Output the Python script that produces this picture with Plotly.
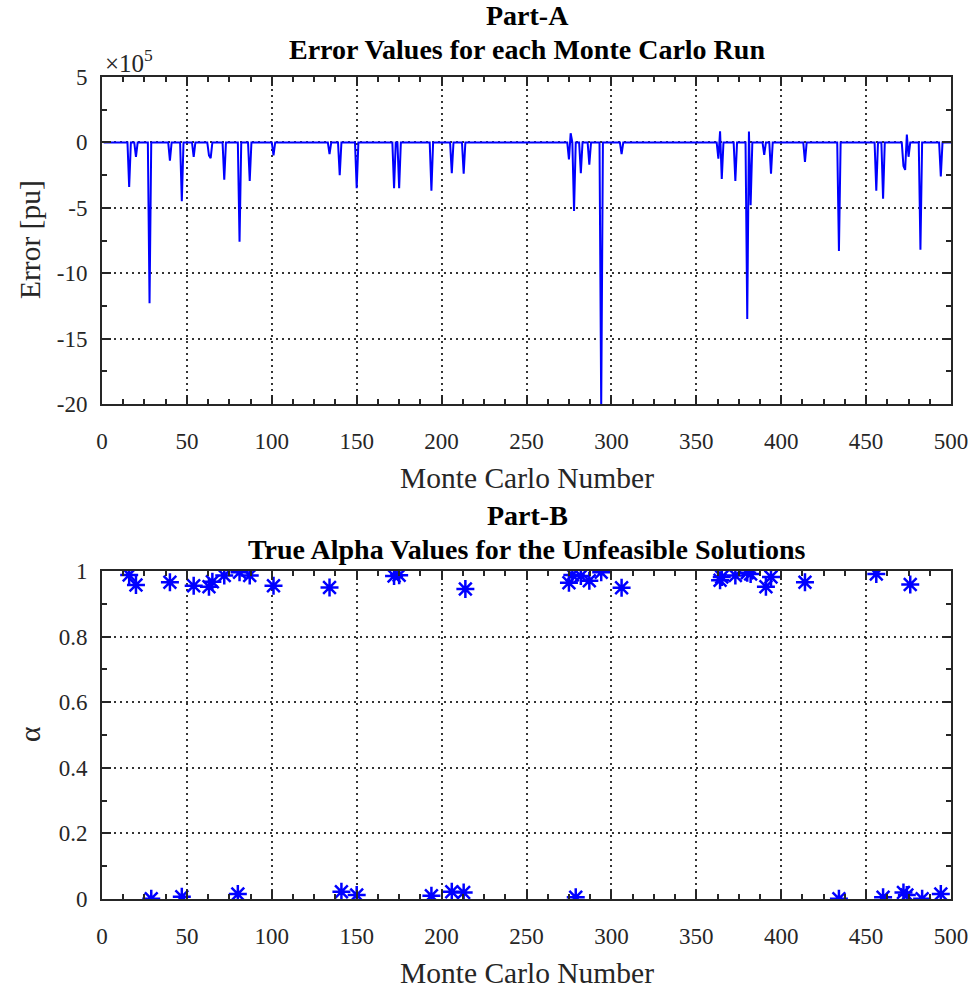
import numpy as np
import plotly.graph_objects as go

# ---- Part-A: runs with a non-zero error (error in units of 1e5 pu) ----
err_runs = [16, 20, 28, 40, 47, 54, 63, 64, 72, 81, 87, 101, 134, 140, 150,
            172, 175, 194, 206, 213, 275, 276, 278, 282, 287, 294, 306, 363,
            364, 365, 373, 380, 381, 382, 390, 394, 414, 434, 456, 460, 472,
            473, 474, 475, 482, 494]
err_vals = [-3.4, -1.1, -12.3, -1.4, -4.5, -1.1, -1.0, -1.2, -2.85, -7.6, -2.95,
            -1.0, -0.9, -2.5, -3.5, -3.5, -3.5, -3.7, -2.35, -2.4, -1.3, 0.7,
            -5.25, -2.35, -1.7, -20.3, -0.9, -1.25, 0.84, -2.8, -2.95, -13.5,
            0.84, -4.8, -0.95, -2.4, -1.5, -8.3, -3.7, -4.3, -1.8, -2.1, 0.6,
            -1.1, -8.2, -2.6]
n_runs = 500

# ---- Part-B: true alpha of the unfeasible solutions ----
alpha_runs = [16, 20, 29, 40, 47, 54, 63, 65, 72, 80, 81, 87, 101, 134, 141,
              150, 172, 175, 194, 206, 213, 214, 275, 277, 279, 282, 287, 294,
              306, 364, 365, 373, 380, 382, 391, 394, 414, 434, 456, 460, 472,
              474, 476, 483, 494]
alpha_vals = [0.988, 0.957, 0.001, 0.966, 0.007, 0.955, 0.952, 0.967, 0.986,
              0.015, 0.996, 0.986, 0.955, 0.950, 0.022, 0.012, 0.985, 0.987,
              0.010, 0.022, 0.020, 0.945, 0.964, 0.988, 0.005, 0.985, 0.970,
              0.996, 0.949, 0.972, 0.982, 0.986, 0.995, 0.991, 0.952, 0.982,
              0.966, 0.001, 0.991, 0.005, 0.020, 0.012, 0.959, 0.001, 0.015]

# tick labels
x_ticks = list(range(0, 501, 50))
err_ticks = [5, 0, -5, -10, -15, -20]
alpha_ticks = [0, 0.2, 0.4, 0.6, 0.8, 1]
alpha_tick_text = ["0", "0.2", "0.4", "0.6", "0.8", "1"]

runs = np.arange(1, n_runs + 1)
error = np.zeros(n_runs)
error[np.array(err_runs) - 1] = err_vals

W, H = 974, 992
FONT = "Liberation Serif"
INK = "#262626"
BLUE = "#0000FF"


def px_x(p):
    return p / W


def px_y(p):
    return 1 - p / H


def minor(dt):
    return dict(ticks="inside", ticklen=5, tickwidth=1.5, tickcolor=INK,
                dtick=dt, tick0=0, showgrid=False)


axis_common = dict(
    showline=True, linecolor=INK, linewidth=2, mirror="ticks",
    ticks="inside", ticklen=9, tickwidth=1.5, tickcolor=INK,
    showgrid=True, gridcolor="rgba(30,30,30,0.9)", griddash="2px,4px",
    gridwidth=1.5, zeroline=False, automargin=False,
    tickfont=dict(family=FONT, size=23, color=INK),
)
x_common = dict(axis_common, range=[0, 500], tickvals=x_ticks,
                ticktext=[str(v) for v in x_ticks], ticklabelstandoff=15,
                minor=minor(12.5))

fig = go.Figure()
fig.add_trace(go.Scatter(x=runs, y=error, mode="lines",
                         line=dict(color=BLUE, width=2),
                         xaxis="x", yaxis="y", showlegend=False))
fig.add_trace(go.Scatter(x=alpha_runs, y=alpha_vals, mode="markers",
                         marker=dict(symbol="asterisk-open", size=15, color=BLUE,
                                     line=dict(color=BLUE, width=2.5)),
                         xaxis="x2", yaxis="y2", showlegend=False))

xdom = [px_x(102), px_x(951)]
fig.update_layout(
    template="none",
    width=W, height=H, margin=dict(l=0, r=0, t=0, b=0, autoexpand=False),
    paper_bgcolor="white", plot_bgcolor="white",
    xaxis=dict(x_common, domain=xdom, anchor="y"),
    yaxis=dict(axis_common, domain=[px_y(404), px_y(77)], anchor="x",
               range=[-20, 5], tickvals=err_ticks,
               ticktext=[str(v) for v in err_ticks], ticklabelstandoff=8,
               minor=minor(2.5)),
    xaxis2=dict(x_common, domain=xdom, anchor="y2"),
    yaxis2=dict(axis_common, domain=[px_y(899), px_y(571)], anchor="x2",
                range=[0, 1], tickvals=alpha_ticks, ticktext=alpha_tick_text,
                ticklabelstandoff=8, minor=minor(0.1)),
)

ann = []


def text(x, y, s, size, bold=False, angle=0, xanchor="center", color="black"):
    ann.append(dict(x=px_x(x), y=px_y(y), xref="paper", yref="paper",
                    text=f"<b>{s}</b>" if bold else s, showarrow=False,
                    textangle=angle, xanchor=xanchor, yanchor="middle",
                    font=dict(family=FONT, size=size, color=color)))


text(527, 16, "Part-A", 28, bold=True)
text(527, 49, "Error Values for each Monte Carlo Run", 28, bold=True)
text(527, 515, "Part-B", 28, bold=True)
text(527, 549, "True Alpha Values for the Unfeasible Solutions", 28, bold=True)
text(527, 478, "Monte Carlo Number", 29.5, color=INK)
text(527, 973, "Monte Carlo Number", 29.5, color=INK)
text(30, 240, "Error [pu]", 29.5, angle=-90, color=INK)
text(30, 735, "α", 29.5, angle=-90, color=INK)
text(103, 61, "×10<sup>5</sup>", 25, xanchor="left", color=INK)
fig.update_layout(annotations=ann)

fig.write_html("out.html")
